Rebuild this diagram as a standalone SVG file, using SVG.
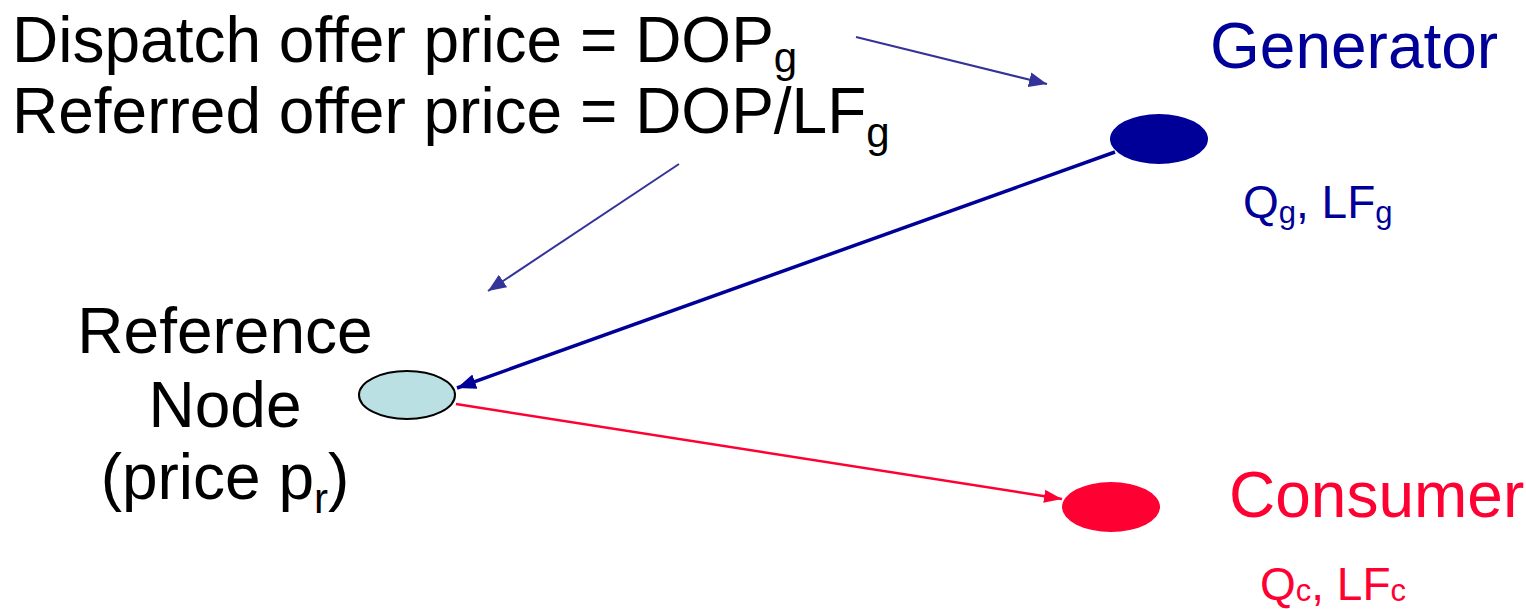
<svg xmlns="http://www.w3.org/2000/svg" width="1526" height="609" viewBox="0 0 1526 609">
<style>
text{font-family:"Liberation Sans",Arial,sans-serif}
.big{font-size:64px}
.sub{font-size:42px}
.small{font-size:46px}
.ssub{font-size:31px}
.blk{fill:#000}
.gen{fill:#000099}
.con{fill:#FF0033}
</style>
<defs>
<marker id="ahBlue" markerUnits="userSpaceOnUse" markerWidth="22" markerHeight="18" refX="19" refY="7.5" orient="auto"><path d="M0,0 L19,7.5 L0,15 z" fill="#000099"/></marker>
<marker id="ahRed" markerUnits="userSpaceOnUse" markerWidth="20" markerHeight="16" refX="18" refY="6.5" orient="auto"><path d="M0,0 L18,6.5 L0,13 z" fill="#FF0033"/></marker>
<marker id="ahNote" markerUnits="userSpaceOnUse" markerWidth="20" markerHeight="18" refX="18" refY="7.5" orient="auto"><path d="M0,0 L18,7.5 L0,15 z" fill="#333399"/></marker>
</defs>
<g id="labels">
<text class="big blk" x="12" y="62">Dispatch offer price = DOP<tspan class="sub" dy="10">g</tspan></text>
<text class="big blk" x="12" y="133">Referred offer price = DOP/LF<tspan class="sub" dy="14">g</tspan></text>
</g>
<g id="connectors">
<line x1="1115" y1="152" x2="457" y2="388" stroke="#000099" stroke-width="3.5" marker-end="url(#ahBlue)"/>
<line x1="456" y1="404" x2="1062" y2="499" stroke="#FF0033" stroke-width="2.5" marker-end="url(#ahRed)"/>
<line x1="856" y1="37" x2="1047" y2="84" stroke="#333399" stroke-width="2" marker-end="url(#ahNote)"/>
<line x1="679" y1="164" x2="488" y2="291" stroke="#333399" stroke-width="2" marker-end="url(#ahNote)"/>
</g>
<g id="generator">
<ellipse cx="1159" cy="139" rx="49" ry="25" fill="#000099"/>
<text class="big gen" x="1210" y="68">Generator</text>
<text class="small gen" x="1243" y="218">Q<tspan class="ssub" dy="5">g</tspan><tspan dy="-5">, LF</tspan><tspan class="ssub" dy="5">g</tspan></text>
</g>
<g id="reference">
<ellipse cx="407" cy="395" rx="48" ry="24" fill="#BAE0E4" stroke="#000" stroke-width="2"/>
<text class="big blk" text-anchor="middle" x="225" y="353">Reference</text>
<text class="big blk" text-anchor="middle" x="225" y="427">Node</text>
<text class="big blk" text-anchor="middle" x="225" y="499">(price p<tspan class="sub" dy="14">r</tspan><tspan dy="-14">)</tspan></text>
</g>
<g id="consumer">
<ellipse cx="1111" cy="507" rx="49" ry="25" fill="#FF0033"/>
<text class="big con" x="1229" y="517">Consumer</text>
<text class="small con" x="1260" y="600">Q<tspan class="ssub" dy="1">c</tspan><tspan dy="-1">, LF</tspan><tspan class="ssub" dy="1">c</tspan></text>
</g>
</svg>
